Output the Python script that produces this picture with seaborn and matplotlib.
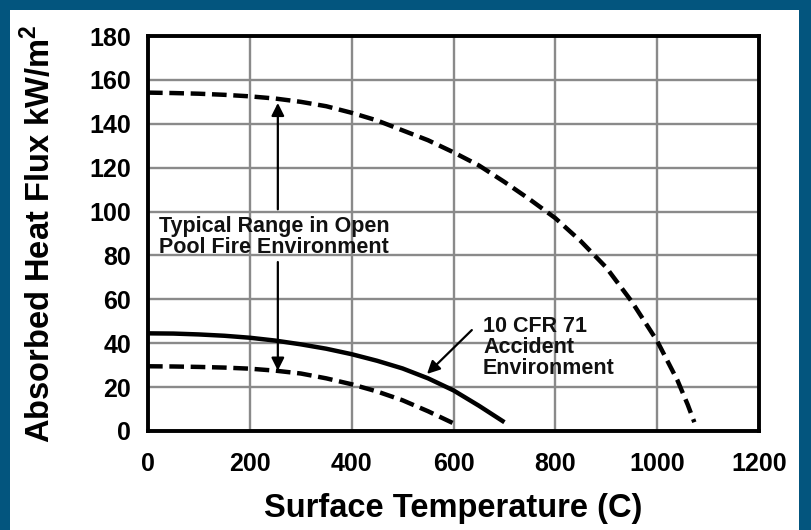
import matplotlib
matplotlib.use("Agg")
import matplotlib.pyplot as plt
import seaborn as sns
import pandas as pd
from matplotlib.patches import Rectangle

# Data
upper_temp = [0, 50, 100, 150, 200, 250, 300, 350, 400, 450, 500, 550, 600, 650,
              700, 750, 800, 850, 900, 950, 1000, 1020, 1040, 1060, 1073]
upper_flux = [154.2, 154, 153.7, 153.2, 152.5, 151.5, 150, 148, 145, 141.5, 137,
              132.5, 127, 121, 113.5, 105.5, 97, 86.5, 74.5, 59, 41, 32, 23, 12, 4]

cfr_temp = [0, 50, 100, 150, 200, 250, 300, 350, 400, 450, 500, 550, 600, 650, 700]
cfr_flux = [44.5, 44.4, 44, 43.4, 42.5, 41.2, 39.5, 37.5, 35, 32, 28.5, 24, 18.5,
            11.5, 4]

lower_temp = [0, 50, 100, 150, 200, 250, 300, 350, 400, 450, 500, 550, 600]
lower_flux = [29.5, 29.4, 29.2, 28.9, 28.4, 27.5, 26.2, 24, 21.3, 18, 14, 9, 3.5]

x_ticks = [0, 200, 400, 600, 800, 1000, 1200]
y_ticks = [0, 20, 40, 60, 80, 100, 120, 140, 160, 180]

x_label = "Surface Temperature (C)"
y_label = "Absorbed Heat Flux kW/m$^\\mathbf{2}$"
range_text = "Typical Range in Open\nPool Fire Environment"
cfr_text = "10 CFR 71\nAccident\nEnvironment"

sns.set_theme(style="white")
plt.rcParams['font.family'] = ['Liberation Sans', 'DejaVu Sans']
plt.rcParams['mathtext.fontset'] = 'custom'
plt.rcParams['mathtext.bf'] = 'Liberation Sans:bold'
plt.rcParams['mathtext.rm'] = 'Liberation Sans'

fig = plt.figure(figsize=(8.11, 5.30), dpi=100)
fig.patch.set_facecolor('#03557e')
W, H = 811, 530
fig.patches.append(Rectangle((10 / W, 0), (W - 22) / W, (H - 10) / H,
                             transform=fig.transFigure, facecolor='white',
                             edgecolor='none', zorder=-10))

ax = fig.add_axes([148 / W, 1 - 431 / H, (759 - 148) / W, (431 - 36) / H])
ax.set_zorder(5)
ax.set_facecolor('white')

df_u = pd.DataFrame({"t": upper_temp, "q": upper_flux})
df_c = pd.DataFrame({"t": cfr_temp, "q": cfr_flux})
df_l = pd.DataFrame({"t": lower_temp, "q": lower_flux})

LW = 3.2
sns.lineplot(data=df_u, x="t", y="q", ax=ax, color='black', lw=LW,
             estimator=None, sort=False)
ax.lines[-1].set_dashes((3.3, 1.5))
sns.lineplot(data=df_c, x="t", y="q", ax=ax, color='black', lw=LW,
             estimator=None, sort=False)
sns.lineplot(data=df_l, x="t", y="q", ax=ax, color='black', lw=LW,
             estimator=None, sort=False)
ax.lines[-1].set_dashes((3.3, 1.5))
for ln in ax.lines:
    ln.set_solid_capstyle('butt')
    ln.set_dash_capstyle('butt')

ax.set_xlim(0, 1200)
ax.set_ylim(0, 180)
ax.set_xticks(x_ticks)
ax.set_yticks(y_ticks)
ax.grid(True, color='#8a8a8a', lw=1.7)
ax.set_axisbelow(True)
for s in ax.spines.values():
    s.set_color('black')
    s.set_linewidth(2.8)
ax.tick_params(length=0, labelsize=18, colors='black')
ax.tick_params(axis='x', pad=15)
ax.tick_params(axis='y', pad=12)
for lab in ax.get_xticklabels() + ax.get_yticklabels():
    lab.set_fontweight('bold')

ax.set_xlabel(x_label, fontsize=23.5, fontweight='bold', color='black')
ax.set_ylabel(y_label, fontsize=23.5, fontweight='bold', color='black')
ax.xaxis.set_label_coords(0.5, (431 - 493) / 395)
ax.yaxis.set_label_coords((57 - 148) / 611, 0.5)

# Range text and double arrow
ax.text(22, 97.8, range_text, fontsize=15.5, fontweight='bold', va='top', ha='left',
        color='#111111', linespacing=0.95)
ax.annotate("", xy=(255, 149.5), xytext=(255, 101),
            arrowprops=dict(arrowstyle='-|>', color='black', lw=1.6,
                            mutation_scale=19, shrinkA=0, shrinkB=0))
ax.annotate("", xy=(255, 27.5), xytext=(255, 77),
            arrowprops=dict(arrowstyle='-|>', color='black', lw=1.6,
                            mutation_scale=19, shrinkA=0, shrinkB=0))

# CFR text and arrow
ax.text(658, 52.5, cfr_text, fontsize=15.5, fontweight='bold', va='top', ha='left',
        color='#111111', linespacing=1.0)
ax.annotate("", xy=(548, 26), xytext=(636, 46),
            arrowprops=dict(arrowstyle='-|>', color='black', lw=1.6,
                            mutation_scale=19, shrinkA=0, shrinkB=0))

fig.savefig("out.png", dpi=100, facecolor=fig.get_facecolor())
